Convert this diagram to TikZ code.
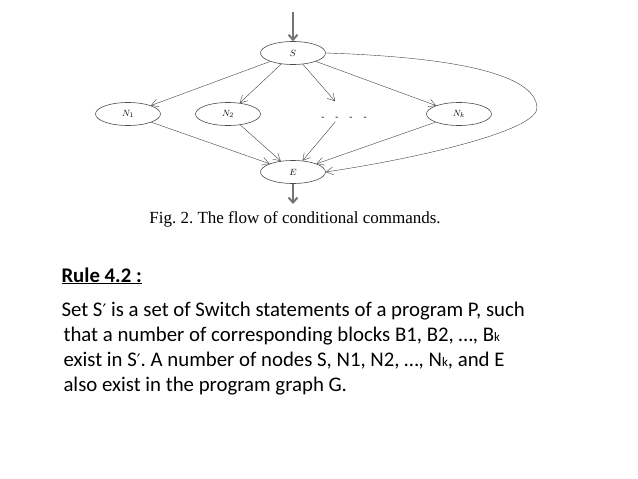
\documentclass[tikz,border=0pt]{standalone}
\usepackage{fontspec}
\setmainfont{Carlito}
\newfontfamily\capfont{Liberation Serif}
\newfontfamily\primefont{DejaVu Sans}
\usetikzlibrary{shapes.geometric,arrows.meta}

\newcommand{\smallk}{{\fontsize{13}{13}\selectfont k}}
\newcommand{\pr}{{\primefont\fontsize{17}{17}\selectfont ′}}

\begin{document}
\begin{tikzpicture}[x=1pt, y=-1pt,
  state/.style={ellipse, draw=black!70, semithick, minimum width=65pt, minimum height=23pt,
    inner sep=0pt, font=\fontsize{9.5}{9.5}\selectfont},
  flow/.style={draw=black!75, thin, -{Straight Barb[length=7pt,width=8pt]}},
  mainflow/.style={draw=black!55, line width=2pt, -{Straight Barb[length=5pt,width=9pt]}},
  textline/.style={anchor=base west, font=\fontsize{20.8}{25}\selectfont\frenchspacing}]
\useasboundingbox (0,0) rectangle (638,479);

%--- flow graph ---
\node[state] (S) at (293,53) {$S$};
\node[state] (N1) at (128,114) {$N_1$};
\node[state] (N2) at (228,114) {$N_2$};
\node[anchor=base, inner sep=0pt, text height=18.5pt, text depth=1.5pt,
  font=\fontsize{10}{10}\selectfont]
  (dots) at (344,120) {-\hspace{11pt}-\hspace{11pt}-\hspace{11pt}-};
\node[state] (Nk) at (459,114) {$N_k$};
\node[state] (E) at (293,172) {$E$};

\coordinate (in) at (293,12);
\coordinate (out) at (293,204);
\coordinate (bend) at (537,107);

% entry and exit
\draw[mainflow] (in) -- (S);
\draw[mainflow] (E) -- (out);

% branches
\foreach \n in {N1,N2,dots,Nk}
  \draw[flow] (S) -- (\n);
\foreach \n in {N1,N2,dots,Nk}
  \draw[flow] (\n) -- (E);

% default branch
\draw[flow] (S.east) .. controls (480,58) and (535,80) .. (bend)
  .. controls (540,130) and (420,158) .. (E.east);

% caption
\node[font=\capfont\fontsize{17}{17}\selectfont\frenchspacing] (cap) at (295,219)
  {Fig. 2. The flow of conditional commands.};

%--- rule text ---
\node[textline, font=\fontsize{20.8}{25}\selectfont\bfseries] (rule) at (58,282)
  {\underline{Rule 4.2 :}};
\node[textline] (l1) at (58,316)
  {Set S\pr\ is a set of Switch statements of a program P, such};
\node[textline] (l2) at (60,341)
  {that a number of corresponding blocks B1, B2, …, B\smallk};
\node[textline] (l3) at (60,366)
  {exist in S\pr. A number of nodes S, N1, N2, …, N\smallk, and E};
\node[textline] (l4) at (60,391)
  {also exist in the program graph G.};
\end{tikzpicture}
\end{document}
